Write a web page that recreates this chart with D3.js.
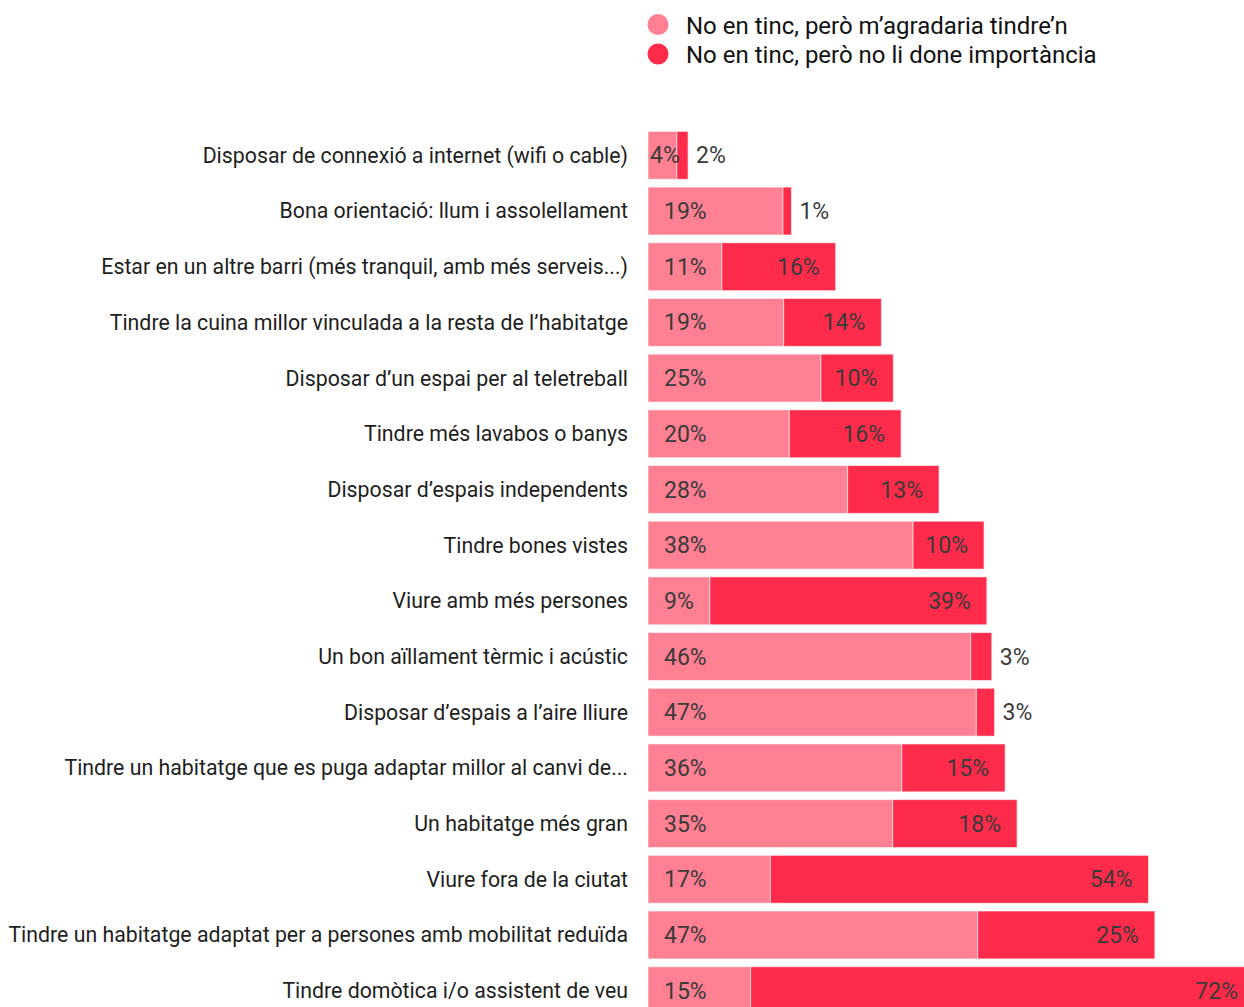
<!DOCTYPE html>
<html><head><meta charset="utf-8">
<script src="https://cdn.jsdelivr.net/npm/d3@7"></script>
<style>body{margin:0;background:#fff;overflow:hidden}svg{display:block;font-family:Roboto,sans-serif}</style>
</head><body>
<script>
const categories = [
"Disposar de connexió a internet (wifi o cable)",
"Bona orientació: llum i assolellament",
"Estar en un altre barri (més tranquil, amb més serveis...)",
"Tindre la cuina millor vinculada a la resta de l’habitatge",
"Disposar d’un espai per al teletreball",
"Tindre més lavabos o banys",
"Disposar d’espais independents",
"Tindre bones vistes",
"Viure amb més persones",
"Un bon aïllament tèrmic i acústic",
"Disposar d’espais a l’aire lliure",
"Tindre un habitatge que es puga adaptar millor al canvi de...",
"Un habitatge més gran",
"Viure fora de la ciutat",
"Tindre un habitatge adaptat per a persones amb mobilitat reduïda",
"Tindre domòtica i/o assistent de veu"];
const wouldLike = [4.1,19.2,10.5,19.3,24.6,20.1,28.4,37.7,8.8,45.9,46.7,36.1,34.8,17.4,46.9,14.6];
const notImportant = [1.6,1.2,16.2,13.9,10.3,15.9,13.0,10.1,39.4,3.0,2.6,14.7,17.7,53.8,25.2,72.0];
const seriesNames = ["No en tinc, però m’agradaria tindre’n","No en tinc, però no li done importància"];
const colors = ["#ff8093","#ff2b4a"];

const W=1244,H=1007;
const svg=d3.select("body").append("svg").attr("width",W).attr("height",H);
const x=d3.scaleLinear().domain([0,100]).range([648,648+703]);
const y=d3.scaleBand().domain(categories).range([127.5,1018.5]).paddingInner(0.14).paddingOuter(0.07);

// legend
const lg=svg.append("g");
seriesNames.forEach((s,i)=>{
  lg.append("circle").attr("cx",658).attr("cy",24.5+i*29.5).attr("r",10.5).attr("fill",colors[i]);
  lg.append("text").attr("x",686).attr("y",25.5+i*29.5).attr("dy","0.35em").attr("font-size",24).attr("fill","#111").text(s);
});

// category labels
svg.append("g").selectAll("text").data(categories).join("text")
 .attr("x",628).attr("y",d=>y(d)+y.bandwidth()/2).attr("dy","0.35em")
 .attr("text-anchor","end").attr("font-size",21.3).attr("fill","#1e1e1e").text(d=>d);

const fmt=v=>Math.round(v)+"%";
const rows=categories.map((c,i)=>({c,a:wouldLike[i],b:notImportant[i]}));
const g=svg.append("g");
rows.forEach(r=>{
  const y0=y(r.c),h=y.bandwidth();
  g.append("rect").attr("x",x(0)).attr("y",y0).attr("width",x(r.a)-x(0)).attr("height",h).attr("fill",colors[0]).attr("stroke","#fff").attr("stroke-opacity",0.6).attr("stroke-width",1);
  g.append("rect").attr("x",x(r.a)).attr("y",y0).attr("width",x(r.a+r.b)-x(r.a)).attr("height",h).attr("fill",colors[1]).attr("stroke","#fff").attr("stroke-opacity",0.6).attr("stroke-width",1);
  const cy=y0+h/2;
  const wa=x(r.a)-x(0);
  g.append("text").attr("x",wa<45?x(0)+2:x(0)+16).attr("y",cy).attr("dy","0.35em").attr("font-size",23).attr("fill","#3a3a3a").text(fmt(r.a));
  const wb=x(r.a+r.b)-x(r.a);
  if(wb<40){
    g.append("text").attr("x",x(r.a+r.b)+8).attr("y",cy).attr("dy","0.35em").attr("font-size",23).attr("fill","#3a3a3a").text(fmt(r.b));
  } else {
    g.append("text").attr("x",Math.min(x(r.a+r.b),1254)-16).attr("y",cy).attr("dy","0.35em").attr("text-anchor","end").attr("font-size",23).attr("fill","#3a3a3a").text(fmt(r.b));
  }
});
</script>
</body></html>
